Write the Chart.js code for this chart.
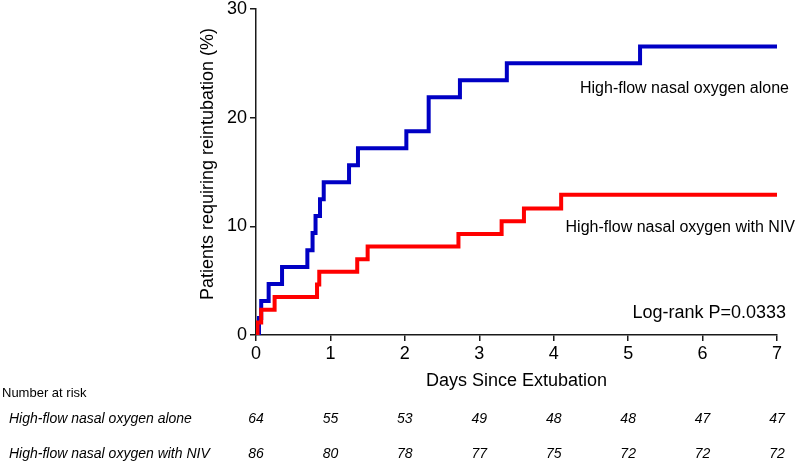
<!DOCTYPE html>
<html>
<head>
<meta charset="utf-8">
<script src="https://cdn.jsdelivr.net/npm/chart.js@4"></script>
<style>
    html, body { margin: 0; padding: 0; background: #fff; }
</style>
</head>
<body>
<canvas id="grafico_km" width="797" height="464"></canvas>
<script>
// dados (dias desde a extubação / % reintubados)
var dias_alone = [0, 0.04, 0.07, 0.17, 0.35, 0.69, 0.76, 0.80, 0.86, 0.91, 1.25, 1.37, 2.02, 2.32, 2.74, 3.37, 5.16, 7];
var pct_alone = [0, 1.56, 3.13, 4.69, 6.25, 7.81, 9.38, 10.94, 12.50, 14.06, 15.63, 17.19, 18.75, 21.88, 23.44, 25.00, 26.56, 26.56];
var dias_niv = [0, 0.02, 0.07, 0.25, 0.82, 0.85, 1.36, 1.50, 2.72, 3.30, 3.60, 4.10, 7];
var pct_niv = [0, 1.16, 2.33, 3.49, 4.65, 5.81, 6.98, 8.14, 9.30, 10.47, 11.63, 12.90, 12.90];

var dias_ticks = [0, 1, 2, 3, 4, 5, 6, 7];
var risco_alone = [64, 55, 53, 49, 48, 48, 47, 47];
var risco_niv = [86, 80, 78, 77, 75, 72, 72, 72];

var nome_alone = 'High-flow nasal oxygen alone';
var nome_niv = 'High-flow nasal oxygen with NIV';
var txt_logrank = 'Log-rank P=0.0333';

var fonte = '"Liberation Sans", Arial, sans-serif';
var cor_eixo = '#1a1a1a';

function montar_pontos(xs, ys) {
    var arr = [];
    for (var i = 0; i < xs.length; i++) {
        arr.push({ x: xs[i], y: ys[i] });
    }
    return arr;
}

// textos: rótulos das curvas, eixos e tabela de número em risco
var plugin_textos = {
    id: 'textos',
    afterDraw: function (chart) {
        var ctx = chart.ctx;
        var area = chart.chartArea;
        var sx = chart.scales.x;
        var sy = chart.scales.y;

        ctx.save();
        ctx.fillStyle = '#000';
        ctx.textBaseline = 'middle';

        ctx.font = '16px ' + fonte;
        ctx.textAlign = 'right';
        ctx.fillText(nome_alone, area.right + 12, sy.getPixelForValue(22.7));
        ctx.fillText(nome_niv, area.right + 18, sy.getPixelForValue(9.9));

        ctx.font = '18px ' + fonte;
        ctx.fillText(txt_logrank, area.right + 9, sy.getPixelForValue(2.0));

        ctx.textAlign = 'center';
        ctx.fillText('Days Since Extubation', (area.left + area.right) / 2, 381);

        ctx.save();
        ctx.translate(208, 164);
        ctx.rotate(-Math.PI / 2);
        ctx.font = '18px ' + fonte;
        ctx.fillText('Patients requiring reintubation (%)', 0, 0);
        ctx.restore();

        ctx.textAlign = 'left';
        ctx.font = '13px ' + fonte;
        ctx.fillText('Number at risk', 2, 393);

        ctx.font = 'italic 14px ' + fonte;
        ctx.fillText(nome_alone, 9, 419);
        ctx.fillText(nome_niv, 9, 454);

        ctx.textAlign = 'center';
        for (var i = 0; i < dias_ticks.length; i++) {
            var px = sx.getPixelForValue(dias_ticks[i]);
            ctx.fillText(String(risco_alone[i]), px, 419);
            ctx.fillText(String(risco_niv[i]), px, 454);
        }
        ctx.restore();
    }
};

var ctx = document.getElementById('grafico_km');

new Chart(ctx, {
    type: 'line',
    data: {
        datasets: [{
            label: nome_niv,
            data: montar_pontos(dias_niv, pct_niv),
            borderColor: '#ff0000',
            borderWidth: 4,
            stepped: 'before',
            pointRadius: 0,
            fill: false
        }, {
            label: nome_alone,
            data: montar_pontos(dias_alone, pct_alone),
            borderColor: '#0000c4',
            borderWidth: 4,
            stepped: 'before',
            pointRadius: 0,
            fill: false
        }]
    },
    options: {
        responsive: false,
        animation: false,
        devicePixelRatio: 1,
        layout: {
            padding: { left: 0, right: 20, top: 0, bottom: 89 }
        },
        plugins: {
            legend: { display: false },
            tooltip: { enabled: false }
        },
        scales: {
            x: {
                type: 'linear',
                min: 0,
                max: 7,
                ticks: {
                    stepSize: 1,
                    color: '#000',
                    font: { family: fonte, size: 18 },
                    padding: 2
                },
                grid: {
                    drawOnChartArea: false,
                    drawTicks: true,
                    tickLength: 6,
                    color: cor_eixo,
                    lineWidth: 1.5
                },
                border: { color: cor_eixo, width: 1.5 },
                afterFit: function (scale) { scale.height = 40; }
            },
            y: {
                type: 'linear',
                min: 0,
                max: 30,
                ticks: {
                    stepSize: 10,
                    color: '#000',
                    font: { family: fonte, size: 18 },
                    padding: 3
                },
                grid: {
                    drawOnChartArea: false,
                    drawTicks: true,
                    tickLength: 6,
                    color: cor_eixo,
                    lineWidth: 1.5
                },
                border: { color: cor_eixo, width: 1.5 },
                afterFit: function (scale) {
                    scale.width = 256;
                    scale.paddingTop = 9;
                    scale.paddingBottom = 0;
                }
            }
        }
    },
    plugins: [plugin_textos]
});
</script>
</body>
</html>
